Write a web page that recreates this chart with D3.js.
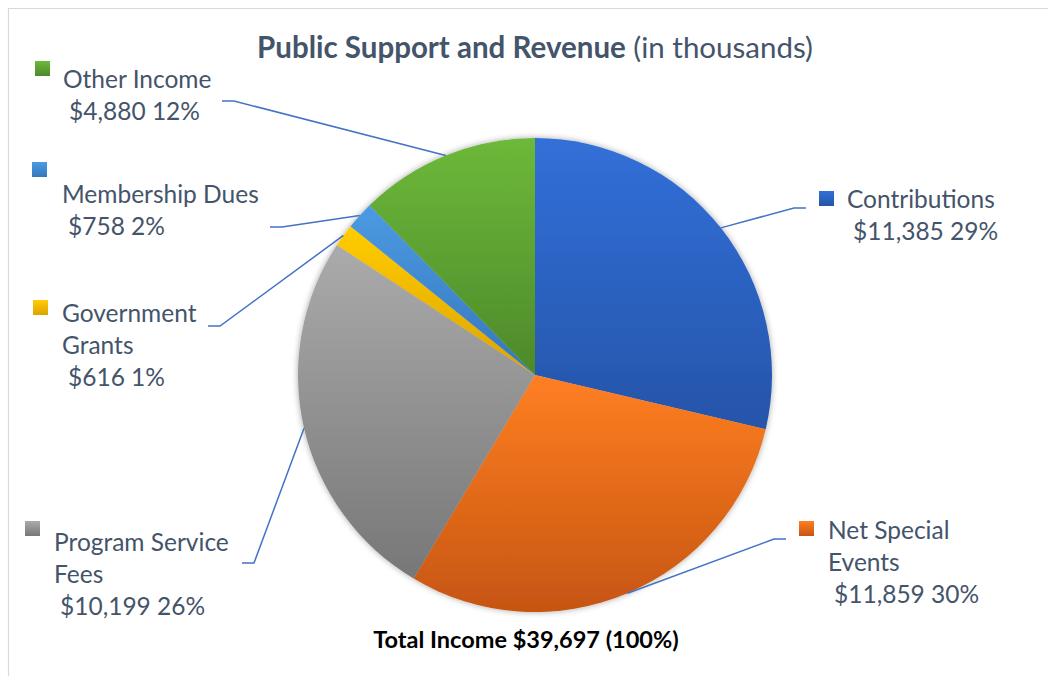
<!DOCTYPE html>
<html>
<head>
<meta charset="utf-8">
<script src="https://cdn.jsdelivr.net/npm/d3@7"></script>
<style>
  body { margin: 0; background: #fff; }
  svg { display: block; font-family: Lato, "Open Sans", sans-serif; }
</style>
</head>
<body>
<svg width="1048" height="676"></svg>
<script>
// values in thousands, clockwise from 12 o'clock
const categories = ["Contributions", "Net Special Events", "Program Service Fees",
                    "Government Grants", "Membership Dues", "Other Income"];
const values = [11385, 11859, 10199, 616, 758, 4880];
const valueLabels = ["$11,385", "$11,859", "$10,199", "$616", "$758", "$4,880"];
const pctLabels = ["29%", "30%", "26%", "1%", "2%", "12%"];
const labelLines = [["Contributions"], ["Net Special", "Events"], ["Program Service", "Fees"],
                    ["Government", "Grants"], ["Membership Dues"], ["Other Income"]];
const totalLabel = "Total Income $39,697 (100%)";

const colTop = ["#3170d8", "#ff7f22", "#ababab", "#ffcd05", "#4b9be3", "#6db93a"];
const colBot = ["#2654a9", "#c65511", "#777777", "#dea300", "#3676bb", "#4d892a"];

// label layout: marker box, text start, outer end of leader line
// side = direction of the short horizontal stub towards the pie
const layout = [
  { mx: 819, my: 191, tx: 847, ty: 208, ex: 806, ey: 208, side: -1 },
  { mx: 799, my: 521, tx: 828, ty: 539, ex: 786, ey: 539, side: -1 },
  { mx: 25,  my: 521, tx: 54,  ty: 551, ex: 242, ey: 563, side: 1 },
  { mx: 33,  my: 300, tx: 62,  ty: 322, ex: 208, ey: 326, side: 1 },
  { mx: 32,  my: 162, tx: 62,  ty: 203, ex: 270, ey: 227, side: 1 },
  { mx: 35,  my: 61,  tx: 63,  ty: 88,  ex: 222, ey: 101, side: 1 }
];

const svg = d3.select("svg");
const cx = 535, cy = 375, r = 237;
const lineH = 32;

const defs = svg.append("defs");
categories.forEach((c, i) => {
  const g = defs.append("linearGradient").attr("id", "grad" + i)
      .attr("x1", 0).attr("y1", 0).attr("x2", 0).attr("y2", 1);
  g.append("stop").attr("offset", "0%").attr("stop-color", colTop[i]);
  g.append("stop").attr("offset", "100%").attr("stop-color", colBot[i]);
});
const shadow = defs.append("filter").attr("id", "shadow")
    .attr("x", "-10%").attr("y", "-10%").attr("width", "120%").attr("height", "120%");
shadow.append("feDropShadow").attr("dx", 0).attr("dy", 0)
    .attr("stdDeviation", 3).attr("flood-color", "#000").attr("flood-opacity", 0.35);

// frame
svg.append("path")
    .attr("d", "M8.5,676 L8.5,8.5 L1048,8.5")
    .attr("fill", "none").attr("stroke", "#d9d9d9").attr("stroke-width", 1.2);

// title
const title = svg.append("text")
    .attr("x", cx).attr("y", 58)
    .attr("text-anchor", "middle")
    .attr("fill", "#44546a")
    .attr("font-size", 29.5);
title.append("tspan").attr("font-weight", "bold").text("Public Support and Revenue");
title.append("tspan").text(" (in thousands)");

const pie = d3.pie().sort(null).value(d => d)(values);
const arc = d3.arc().innerRadius(0).outerRadius(r);

const g = svg.append("g").attr("transform", `translate(${cx},${cy})`);
g.append("g").attr("filter", "url(#shadow)")
  .selectAll("path")
  .data(pie)
  .enter()
  .append("path")
    .attr("d", arc)
    .attr("fill", (d, i) => `url(#grad${i})`);

// leader lines
svg.append("g").selectAll("polyline")
  .data(pie)
  .enter()
  .append("polyline")
    .attr("fill", "none")
    .attr("stroke", "#4472c4")
    .attr("stroke-width", 1.5)
    .attr("points", (d, i) => {
      const a = (d.startAngle + d.endAngle) / 2;
      const px = cx + r * Math.sin(a), py = cy - r * Math.cos(a);
      const L = layout[i];
      return [[L.ex, L.ey], [L.ex + L.side * 12, L.ey], [px, py]].join(" ");
    });

// labels
const labels = svg.append("g").selectAll("g")
  .data(categories)
  .enter()
  .append("g");

labels.append("rect")
    .attr("x", (d, i) => layout[i].mx)
    .attr("y", (d, i) => layout[i].my)
    .attr("width", 15).attr("height", 15)
    .attr("fill", (d, i) => `url(#grad${i})`);

labels.each(function(d, i) {
  const L = layout[i];
  const t = d3.select(this).append("text")
      .attr("fill", "#44546a")
      .attr("font-size", 24.5);
  labelLines[i].forEach((ln, k) => {
    t.append("tspan").attr("x", L.tx).attr("y", L.ty + k * lineH).text(ln);
  });
  t.append("tspan")
      .attr("x", L.tx + 6)
      .attr("y", L.ty + labelLines[i].length * lineH)
      .text(valueLabels[i] + " " + pctLabels[i]);
});

// total
svg.append("text")
    .attr("x", 526).attr("y", 648)
    .attr("text-anchor", "middle")
    .attr("font-weight", "bold")
    .attr("font-size", 23.5)
    .attr("fill", "#000")
    .text(totalLabel);
</script>
</body>
</html>
